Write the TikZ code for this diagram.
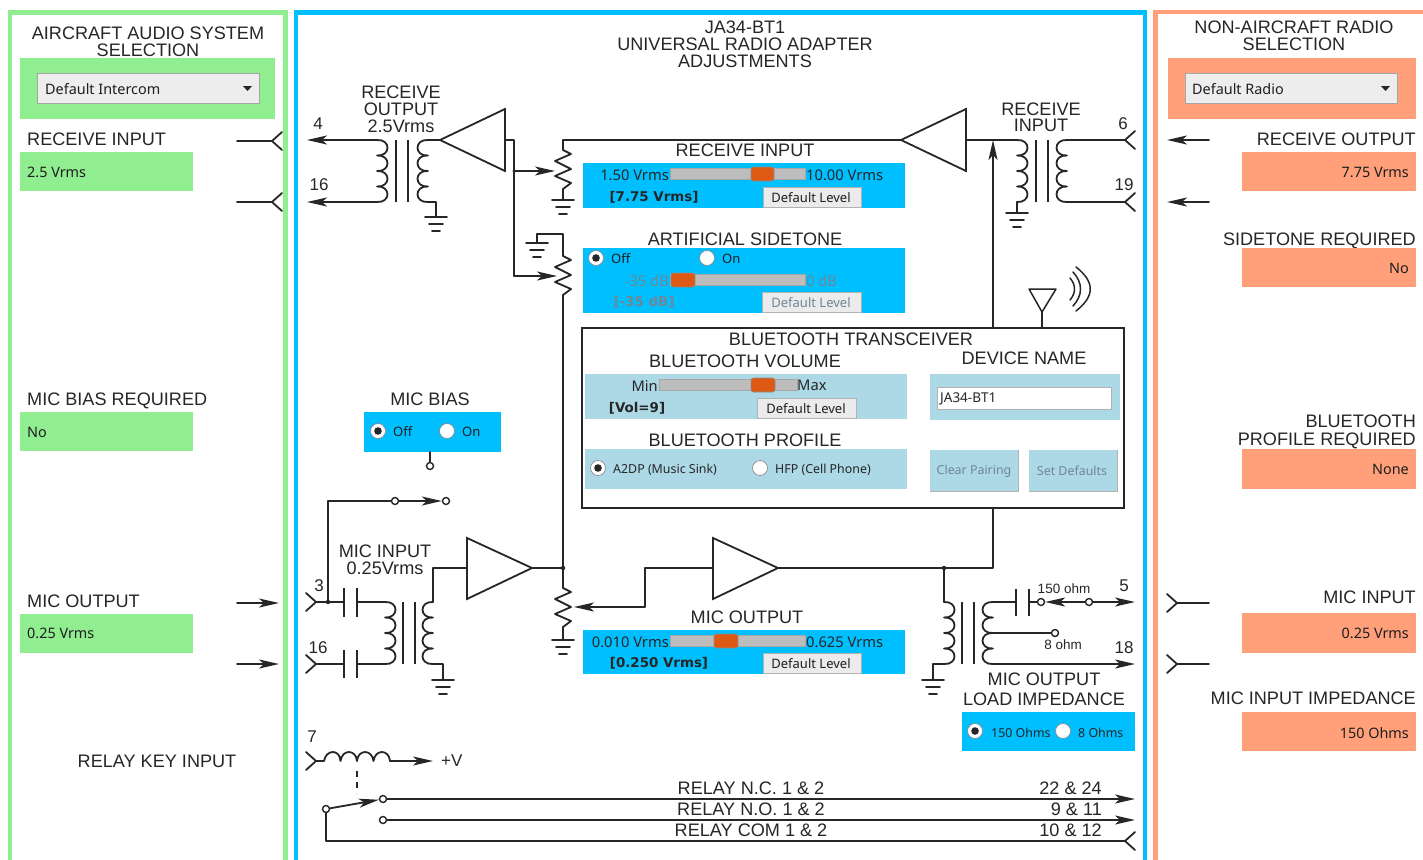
\documentclass[tikz,border=0pt]{standalone}
\usepackage{fontspec}
\setmainfont{Liberation Sans}
\newfontfamily\uifont{Noto Sans}
\newfontfamily\uiboldfont{DejaVu Sans Bold}
\usetikzlibrary{arrows.meta,calc}
\definecolor{ink}{HTML}{262626}
\definecolor{grn}{HTML}{90EE90}
\definecolor{sky}{HTML}{00BFFF}
\definecolor{sal}{HTML}{FFA07A}
\definecolor{lblue}{HTML}{ADD8E6}
\definecolor{thumbc}{HTML}{DE5A14}
\definecolor{slid}{HTML}{BDBDBD}
\definecolor{greyt}{HTML}{6F8796}
\tikzset{
  wire/.style={draw=ink,line width=1.8pt,line cap=round,line join=round},
  corebar/.style={draw=ink,line width=1.8pt},
  arrowend/.style={-{Stealth[length=20pt,width=9pt,inset=5pt]}},
  amp/.style={draw=ink,line width=1.8pt,line join=miter,fill=white},
  term/.style={circle,draw=ink,line width=1.4pt,fill=white,minimum size=7pt,inner sep=0pt},
  jdot/.style={circle,fill=ink,minimum size=4.5pt,inner sep=0pt},
  captxt/.style={font=\fontsize{18.1}{18}\selectfont,text=ink,inner sep=0pt,text height=12.5pt,text depth=0pt},
  pinlbl/.style={font=\fontsize{17}{18}\selectfont,text=ink,inner sep=0pt},
  smalltxt/.style={font=\fontsize{13.5}{14}\selectfont,text=ink,inner sep=0pt},
  ui/.style={font=\uifont\fontsize{13}{14}\selectfont,text=ink!80!black,inner sep=0pt,yshift=-0.8pt},
  uival/.style={font=\uifont\fontsize{14.4}{14}\selectfont,text=ink!80!black,inner sep=0pt,yshift=-0.8pt},
  uismall/.style={font=\uifont\fontsize{12.4}{14}\selectfont,text=ink,inner sep=0pt,yshift=-0.8pt},
  ublue/.style={font=\uifont\fontsize{14.7}{14}\selectfont,text=ink,inner sep=0pt,yshift=-0.8pt},
  uibold/.style={font=\uiboldfont\fontsize{13.4}{14}\selectfont,text=ink,inner sep=0pt},
  greytxt/.style={text=greyt},
  btn/.style={fill=white!92!black,draw=black!30,line width=0.8pt},
  gnd/.pic={\draw[wire] (-11,0)--(11,0) (-7,7)--(7,7) (-4,14)--(4,14);},
  coil/.pic={\draw[wire] (0,0)
     .. controls (14,-1) and (14,16.5) .. (0,15.5)
     .. controls (14,14.5) and (14,32) .. (0,31)
     .. controls (14,30) and (14,47.5) .. (0,46.5)
     .. controls (14,45.5) and (14,63) .. (0,62);},
  zig/.pic={\draw[wire] (0,0)--(8,4)--(-8,11)--(8,19)--(-8,26)--(8,33)--(0,39);},
  fork/.pic={\draw[wire] (10,-9)--(0,0)--(10,9);},
  corepair/.pic={\draw[corebar] (0,0)--(0,62) (12,0)--(12,62);}
}
\newcommand\pnl[5]{\fill[#5] (#1,#2) rectangle (#3,#4);}
\newcommand\slider[6]{%
  \draw[fill=slid,draw=black!35,line width=0.6pt] (#1,#3-5.5) rectangle (#2,#3+5.5);
  \draw[fill=thumbc,draw=black!45,line width=0.6pt,rounded corners=2.5pt] (#4,#3-7) rectangle (#5,#3+7);}
\newcommand\radio[3]{%
  \fill[white,draw=black!45,line width=0.7pt] (#1,#2) circle (7.5pt);
  \ifnum#3=1 \fill[ink] (#1,#2) circle (3.8pt);\fi}
\newcommand\dropdown[3]{%
  \draw[fill=white!93!black,draw=black!35,line width=0.8pt] (#1,73) rectangle (#2,103);
  \fill[ink] (#2-16,86) -- (#2-7,86) -- (#2-11.5,91) -- cycle;}
\begin{document}
\begin{tikzpicture}[x=1pt,y=-1pt]
\useasboundingbox (0,0) rectangle (1423,859);
\clip (0,0) rectangle (1423,859);
\fill[white] (0,0) rectangle (1423,859);
% ---- panels
\draw[grn,line width=4.5pt] (10,880)--(10,12.5)--(285.5,12.5)--(285.5,880);
\draw[sky,line width=4.5pt] (296,880)--(296,12.5)--(1145,12.5)--(1145,880);
\draw[sal,line width=4.5pt] (1155.5,880)--(1155.5,12)--(1440,12);
% ---- left panel
\node[captxt] (tAud1) at (148,33) {AIRCRAFT AUDIO SYSTEM};
\node[captxt] (tAud2) at (148,50) {SELECTION};
\pnl{20}{58}{275}{119}{grn}
\dropdown{37}{259}{}
\node[uival,anchor=west] (ddL) at (45,88) {Default Intercom};
\node[captxt,anchor=west] (lRI) at (27,139) {RECEIVE INPUT};
\pnl{20}{152}{193}{191}{grn}
\node[uival,anchor=west] (vRI) at (27,172) {2.5 Vrms};
\node[captxt,anchor=west] (lMB) at (27,399) {MIC BIAS REQUIRED};
\pnl{20}{412}{193}{451}{grn}
\node[uival,anchor=west] (vMB) at (27,432) {No};
\node[captxt,anchor=west] (lMO) at (27,601) {MIC OUTPUT};
\pnl{20}{614}{193}{653}{grn}
\node[uival,anchor=west] (vMO) at (27,633) {0.25 Vrms};
\node[captxt] (lRK) at (157,761) {RELAY KEY INPUT};
% outer left connectors
\coordinate (la1) at (237,141); \coordinate (la2) at (272,141);
\coordinate (lb1) at (237,202); \coordinate (lb2) at (272,202);
\draw[wire] (la1)--(la2); \pic at (la2) {fork};
\draw[wire] (lb1)--(lb2); \pic at (lb2) {fork};
\coordinate (lc1) at (237,603); \coordinate (lc2) at (279,603);
\coordinate (ld1) at (237,664); \coordinate (ld2) at (279,664);
\draw[wire,arrowend] (lc1)--(lc2);
\draw[wire,arrowend] (ld1)--(ld2);
% ---- right panel
\node[captxt] (tRad1) at (1294,27) {NON-AIRCRAFT RADIO};
\node[captxt] (tRad2) at (1294,44) {SELECTION};
\pnl{1168}{58}{1416}{119}{sal}
\dropdown{1185}{1397}{}
\node[uival,anchor=west] (ddR) at (1192,88) {Default Radio};
\node[captxt,anchor=east] (rRO) at (1416,139) {RECEIVE OUTPUT};
\pnl{1242}{152}{1416}{191}{sal}
\node[uival,anchor=east] (vRO) at (1409,172) {7.75 Vrms};
\node[captxt,anchor=east] (rST) at (1416,239) {SIDETONE REQUIRED};
\pnl{1242}{248}{1416}{287}{sal}
\node[uival,anchor=east] (vST) at (1409,268) {No};
\node[captxt,anchor=east] (rBT1) at (1416,421) {BLUETOOTH};
\node[captxt,anchor=east] (rBT2) at (1416,439) {PROFILE REQUIRED};
\pnl{1242}{449}{1416}{489}{sal}
\node[uival,anchor=east] (vBT) at (1409,469) {None};
\node[captxt,anchor=east] (rMI) at (1416,597) {MIC INPUT};
\pnl{1242}{613}{1416}{653}{sal}
\node[uival,anchor=east] (vMI) at (1409,633) {0.25 Vrms};
\node[captxt,anchor=east] (rMZ) at (1416,698) {MIC INPUT IMPEDANCE};
\pnl{1242}{712}{1416}{751}{sal}
\node[uival,anchor=east] (vMZ) at (1409,732) {150 Ohms};
% outer right connectors
\coordinate (ra1) at (1209,140); \coordinate (ra2) at (1167,140);
\coordinate (rb1) at (1209,202); \coordinate (rb2) at (1167,202);
\draw[wire,arrowend] (ra1)--(ra2);
\draw[wire,arrowend] (rb1)--(rb2);
\coordinate (rc1) at (1209,603); \coordinate (rc2) at (1177,603);
\coordinate (rd1) at (1209,664); \coordinate (rd2) at (1177,664);
\draw[wire] (rc1)--(rc2); \pic[xscale=-1] at (rc2) {fork};
\draw[wire] (rd1)--(rd2); \pic[xscale=-1] at (rd2) {fork};
% ---- centre title
\node[captxt] (t1) at (745,27) {JA34-BT1};
\node[captxt] (t2) at (745,44) {UNIVERSAL RADIO ADAPTER};
\node[captxt] (t3) at (745,61) {ADJUSTMENTS};
% ---- receive output section
\node[captxt] (ro1) at (401,92) {RECEIVE};
\node[captxt] (ro2) at (401,109) {OUTPUT};
\node[captxt] (ro3) at (401,126) {2.5Vrms};
\node[pinlbl] (p4) at (318,124) {4};
\node[pinlbl] (p16a) at (319,185) {16};
\coordinate (a4) at (307,140); \coordinate (a16) at (307,202);
\coordinate (ct1) at (377,140); \coordinate (cb1) at (377,202);
\draw[wire,arrowend] (ct1)--(a4);
\draw[wire,arrowend] (cb1)--(a16);
\pic at (ct1) {coil};
\pic at (396,140) {corepair};
\coordinate (ct2) at (428,140); \coordinate (cb2) at (428,202); \coordinate (g1) at (436,217);
\pic[xscale=-1] at (ct2) {coil};
\draw[wire] (cb2)-|(g1);
\pic at (g1) {gnd};
% amp RO
\coordinate (ampAi) at (505,140); \coordinate (ampAt) at (440,140);
\draw[amp] (ampAt)--(505,109)--(505,171)--cycle;
\draw[wire] (ct2)--(ampAt);
\coordinate (ja) at (514,171);
\coordinate (rz1t) at (563,150); \coordinate (rz1b) at (563,189);
\coordinate (ar1) at (555,171); \coordinate (ar2) at (557,276); \coordinate (j2) at (514,276);
\draw[wire] (ampAi)-|(j2);
\draw[wire,arrowend] (ja)--(ar1);
\draw[wire,arrowend] (j2)--(ar2);
\node[jdot,minimum size=3.5pt] (jad) at (ja) {};
% R1
\pic at (rz1t) {zig};
\coordinate (g2) at (563,200);
\draw[wire] (rz1b)--(g2);
\pic at (g2) {gnd};
% top wire
\coordinate (tw) at (563,140); \coordinate (ampBt) at (901,140);
\draw[wire] (rz1t)--(tw)--(ampBt);
% R2
\coordinate (rz2t) at (563,256); \coordinate (rz2b) at (563,295);
\coordinate (g3) at (537,243); \coordinate (g3c) at (563,234);
\draw[wire] (rz2t)--(g3c)-|(g3);
\pic at (g3) {gnd};
\pic at (rz2t) {zig};
\coordinate (j3) at (563,568);
\draw[wire] (rz2b)--(j3);
\node[jdot] (j3d) at (j3) {};
% R3
\coordinate (rz3t) at (563,588); \coordinate (rz3b) at (563,627); \coordinate (g4) at (563,640);
\draw[wire] (j3)--(rz3t);
\pic at (rz3t) {zig};
\draw[wire] (rz3b)--(g4);
\pic at (g4) {gnd};
% ---- receive input panel
\node[captxt] (lRInp) at (745,150) {RECEIVE INPUT};
\pnl{583}{163}{905}{208}{sky}
\slider{670}{805}{174}{751}{774}{}
\node[ublue,anchor=east] (ri1) at (669,174) {1.50 Vrms};
\node[ublue,anchor=west] (ri2) at (806,174) {10.00 Vrms};
\node[uibold] (ri3) at (654,197) {[7.75 Vrms]};
\draw[btn] (763,187) rectangle (861,207);
\node[ui] (ri4) at (811,197) {Default Level};
% ---- sidetone panel
\node[captxt] (lST) at (745,239) {ARTIFICIAL SIDETONE};
\pnl{583}{248}{905}{313}{sky}
\radio{596}{258}{1}
\radio{707}{258}{0}
\node[ui,anchor=west] (st1) at (611,258) {Off};
\node[ui,anchor=west] (st2) at (722,258) {On};
\slider{670}{805}{280}{671}{695}{}
\node[ublue,greytxt,anchor=east] (st3) at (669,280) {-35 dB};
\node[ublue,greytxt,anchor=west] (st4) at (806,280) {0 dB};
\node[uibold,greytxt] (st5) at (644,302) {[-35 dB]};
\draw[btn] (762,292) rectangle (861,312);
\node[ui,greytxt] (st6) at (811,302) {Default Level};
% ---- receive input section
\node[captxt] (ri5) at (1041,109) {RECEIVE};
\node[captxt] (ri6) at (1041,125) {INPUT};
\node[pinlbl] (p6) at (1123,124) {6};
\node[pinlbl] (p19) at (1124,185) {19};
\coordinate (ampBb) at (966,140);
\draw[amp] (ampBt)--(966,109)--(966,171)--cycle;
\coordinate (c3t) at (1017,140); \coordinate (c3b) at (1017,202); \coordinate (g5) at (1017,213);
\draw[wire] (ampBb)--(c3t);
\pic at (c3t) {coil};
\draw[wire] (c3b)--(g5);
\pic at (g5) {gnd};
\pic at (1036,140) {corepair};
\coordinate (c4t) at (1067,140); \coordinate (c4b) at (1067,202);
\pic[xscale=-1] at (c4t) {coil};
\coordinate (f6) at (1125,140); \coordinate (f19) at (1125,202);
\draw[wire] (c4t)--(f6);
\draw[wire] (c4b)--(f19);
\pic at (f6) {fork};
\pic at (f19) {fork};
% ---- bluetooth box
\node[draw=ink,line width=1.8pt,fill=white,minimum width=542pt,minimum height=180pt,inner sep=0pt,anchor=north west] (bt) at (581,327) {};
\coordinate (btup) at (993,327); \coordinate (btdn) at (993,508); \coordinate (jrx) at (993,140);
\draw[wire,arrowend] (btup)--(jrx);
\coordinate (ant) at (1042,327); \coordinate (antt) at (1042,312);
\draw[wire] (ant)--(antt);
\draw[wire,fill=white,line width=1.5pt] (1029,289)--(1056,289)--(antt)--cycle;
\draw[wire,line width=1.5pt] (1070,278) .. controls (1076,285) and (1076,293) .. (1070,300);
\draw[wire,line width=1.5pt] (1073,272) .. controls (1083,283) and (1083,295) .. (1073,306);
\draw[wire,line width=1.5pt] (1076,267) .. controls (1095,282) and (1095,296) .. (1076,311);
\node[captxt] (bt1) at (851,339) {BLUETOOTH TRANSCEIVER};
\node[captxt] (bt2) at (745,361) {BLUETOOTH VOLUME};
\node[captxt] (bt3) at (1024,358) {DEVICE NAME};
\pnl{585}{374}{907}{419}{lblue}
\slider{659}{797}{385}{751}{775}{}
\node[ublue,anchor=east] (bv1) at (658,385) {Min};
\node[ublue,anchor=west] (bv2) at (797,385) {Max};
\node[uibold] (bv3) at (637,408) {[Vol=9]};
\draw[btn] (757,398) rectangle (856,418);
\node[ui] (bv4) at (806,408) {Default Level};
\pnl{930}{374}{1120}{420}{lblue}
\draw[fill=white,draw=black!30,line width=0.8pt] (937,387) rectangle (1111,409);
\node[uismall,font=\uifont\fontsize{13.5}{14}\selectfont,anchor=west] (dn) at (940,398) {JA34-BT1};
\node[captxt] (bt4) at (745,440) {BLUETOOTH PROFILE};
\pnl{585}{449}{907}{489}{lblue}
\radio{598}{468}{1}
\radio{760}{468}{0}
\node[uismall,anchor=west] (bp1) at (613,469) {A2DP (Music Sink)};
\node[uismall,anchor=west] (bp2) at (775,469) {HFP (Cell Phone)};
\pnl{930}{450}{1018}{491}{lblue}
\pnl{1029}{450}{1117}{491}{lblue}
\draw[black!30,line width=1pt] (1018,450)--(1018,491)--(930,491);
\draw[black!30,line width=1pt] (1117,450)--(1117,491)--(1029,491);
\node[uismall,greytxt] (bb1) at (974,470) {Clear Pairing};
\node[uismall,greytxt] (bb2) at (1072,470) {Set Defaults};
% ---- mic bias
\node[captxt] (mb0) at (430,399) {MIC BIAS};
\pnl{364}{412}{501}{452}{sky}
\radio{378}{431}{1}
\radio{447}{431}{0}
\node[ui,anchor=west] (mb1) at (393,431) {Off};
\node[ui,anchor=west] (mb2) at (462,431) {On};
\coordinate (mbb) at (430,452);
\node[term] (mbt) at (430,466) {};
\draw[wire] (mbb)--(mbt);
% ---- mic input section
\node[captxt] (mi1) at (385,551) {MIC INPUT};
\node[captxt] (mi2) at (385,568) {0.25Vrms};
\node[pinlbl] (p3) at (319,586) {3};
\node[pinlbl] (p16b) at (318,648) {16};
\coordinate (f3) at (316,602); \coordinate (f16) at (316,664);
\pic[xscale=-1] at (f3) {fork};
\pic[xscale=-1] at (f16) {fork};
\coordinate (ca1) at (344,602); \coordinate (cb1a) at (357,602);
\coordinate (ca2) at (344,664); \coordinate (cb2a) at (357,664);
\coordinate (c5t) at (385,602); \coordinate (c5b) at (385,664);
\draw[wire] (f3)--(ca1) (cb1a)--(c5t);
\draw[wire] (f16)--(ca2) (cb2a)--(c5b);
\draw[corebar] (344,588)--(344,617) (357,588)--(357,617);
\draw[corebar] (344,650)--(344,678) (357,650)--(357,678);
\pic at (c5t) {coil};
\pic at (403,602) {corepair};
\coordinate (c6t) at (433,602); \coordinate (c6b) at (433,664); \coordinate (g6) at (443,680);
\pic[xscale=-1] at (c6t) {coil};
\draw[wire] (c6b)-|(g6);
\pic at (g6) {gnd};
\coordinate (ampCi) at (467,568); \coordinate (ampCt) at (532,568); \coordinate (wc) at (433,568);
\draw[wire] (c6t)--(wc)--(ampCi);
\draw[amp] (467,538)--(ampCt)--(467,599)--cycle;
\draw[wire] (ampCt)--(j3);
\coordinate (j328) at (328,602); \coordinate (c328) at (328,501);
\node[jdot] (j328d) at (j328) {};
\node[term] (sa) at (395,501) {};
\node[term] (sb) at (446,501) {};
\draw[wire] (j328)--(c328)--(sa);
\draw[wire,arrowend] (sa)--(sb);
% ---- mic output section
\coordinate (ampDi) at (713,568); \coordinate (ampDt) at (778,568);
\draw[amp] (713,538)--(ampDt)--(713,599)--cycle;
\coordinate (wd1) at (645,568); \coordinate (wd2) at (645,607); \coordinate (wd3) at (574,607);
\draw[wire] (ampDi)--(wd1);
\draw[wire,arrowend] (wd1)--(wd2)--(wd3);
\coordinate (j944) at (944,568);
\draw[wire] (ampDt)--(btdn |- ampDt)--(btdn);
\node[jdot] (j944d) at (j944) {};
\coordinate (c7t) at (944,602); \coordinate (c7b) at (944,664); \coordinate (g7) at (933,680);
\draw[wire] (j944)--(c7t);
\pic at (c7t) {coil};
\draw[wire] (c7b)-|(g7);
\pic at (g7) {gnd};
\pic at (962,602) {corepair};
\coordinate (c8t) at (993,602); \coordinate (c8m) at (993,633); \coordinate (c8b) at (993,664);
\pic[xscale=-1] at (c8t) {coil};
\coordinate (ca3) at (1016,602); \coordinate (cb3) at (1029,602);
\draw[wire] (c8t)--(ca3);
\draw[corebar] (1016,589)--(1016,616) (1029,589)--(1029,616);
\node[term] (so1) at (1041,602) {};
\node[term] (so2) at (1089,602) {};
\node[term] (so3) at (1055,633) {};
\draw[wire] (cb3)--(so1);
\draw[wire,arrowend] (so2)--(so1);
\coordinate (e5) at (1135,602); \coordinate (e18) at (1135,664);
\draw[wire,arrowend] (so2)--(e5);
\draw[wire] (c8m)--(so3);
\draw[wire,arrowend] (c8b)--(e18);
\node[smalltxt] (oh1) at (1064,589) {150 ohm};
\node[smalltxt] (oh2) at (1063,645) {8 ohm};
\node[pinlbl] (p5) at (1124,586) {5};
\node[pinlbl] (p18) at (1124,648) {18};
\node[captxt] (mo1) at (1044,679) {MIC OUTPUT};
\node[captxt] (mo2) at (1044,699) {LOAD IMPEDANCE};
\pnl{962}{712}{1135}{751}{sky}
\radio{975}{731}{1}
\radio{1063}{731}{0}
\node[uismall,anchor=west] (mo3) at (991,732) {150 Ohms};
\node[uismall,anchor=west] (mo4) at (1078,732) {8 Ohms};
% mic output panel
\node[captxt] (lMOp) at (747,617) {MIC OUTPUT};
\pnl{583}{630}{905}{674}{sky}
\slider{670}{805}{641}{714}{738}{}
\node[ublue,anchor=east] (mp1) at (669,641) {0.010 Vrms};
\node[ublue,anchor=west] (mp2) at (806,641) {0.625 Vrms};
\node[uibold] (mp3) at (659,663) {[0.250 Vrms]};
\draw[btn] (763,653) rectangle (861,673);
\node[ui] (mp4) at (811,663) {Default Level};
% ---- relay
\node[pinlbl] (p7) at (312,737) {7};
\coordinate (f7) at (316,761); \coordinate (rc0) at (324,761); \coordinate (rc1) at (390,761); \coordinate (vv) at (433,761);
\pic[xscale=-1] at (f7) {fork};
\draw[wire] (f7)--(rc0)
  .. controls (326,749) and (340,749) .. (340.5,761)
  .. controls (342,749) and (356,749) .. (357,761)
  .. controls (358,749) and (372,749) .. (373.5,761)
  .. controls (375,749) and (389,749) .. (rc1);
\draw[wire,arrowend] (rc1)--(vv);
\node[pinlbl,anchor=west] (vlab) at (441,761) {+V};
\coordinate (dsh1) at (357,771); \coordinate (dsh2) at (357,793);
\draw[wire,dash pattern=on 6pt off 5pt,line cap=butt] (dsh1)--(dsh2);
\node[term] (rp) at (326,809) {};
\node[term] (rnc) at (383,799) {};
\node[term] (rno) at (383,820) {};
\draw[wire,arrowend] (rp)--(rnc);
\coordinate (enc) at (1135,799); \coordinate (eno) at (1135,820); \coordinate (ecom) at (1125,841); \coordinate (rpb) at (326,841);
\draw[wire,arrowend] (rnc)--(enc);
\draw[wire,arrowend] (rno)--(eno);
\draw[wire] (rp)--(rpb)--(ecom);
\pic at (ecom) {fork};
\node[captxt] (rl1) at (751,788) {RELAY N.C. 1 \& 2};
\node[captxt] (rl2) at (751,809) {RELAY N.O. 1 \& 2};
\node[captxt] (rl3) at (751,830) {RELAY COM 1 \& 2};
\node[captxt,anchor=east] (rn1) at (1102,788) {22 \& 24};
\node[captxt,anchor=east] (rn2) at (1102,809) {9 \& 11};
\node[captxt,anchor=east] (rn3) at (1102,830) {10 \& 12};
\end{tikzpicture}
\end{document}
